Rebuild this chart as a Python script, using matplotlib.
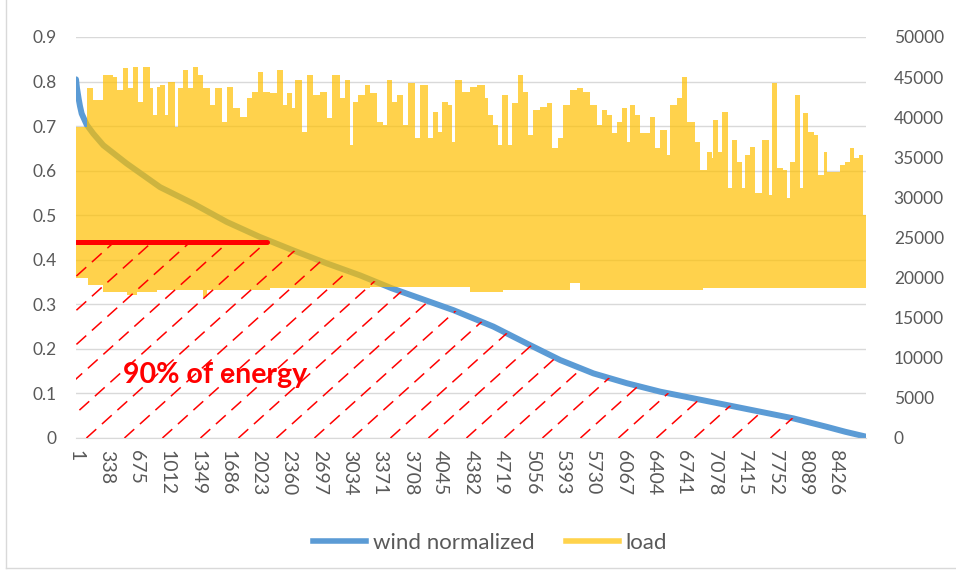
import numpy as np
import matplotlib
matplotlib.use('Agg')
import matplotlib.pyplot as plt
from matplotlib.patches import Polygon
from matplotlib.lines import Line2D
from matplotlib.ticker import FuncFormatter

plt.rcParams['font.family'] = ['Lato', 'DejaVu Sans']
plt.rcParams['lines.scale_dashes'] = False

# wind duration curve (hour rank -> normalized output)
wind_hour = [1, 12, 30, 45, 64, 120, 193, 304, 563, 933, 1302, 1672, 2042, 2411,
             2781, 3151, 3502, 4185, 4629, 5000, 5369, 5738, 6108, 6478, 6847,
             7217, 7587, 7956, 8326, 8530, 8760]
wind_value = [0.805, 0.785, 0.762, 0.745, 0.728, 0.703, 0.683, 0.657, 0.616, 0.563,
              0.526, 0.485, 0.451, 0.421, 0.392, 0.365, 0.336, 0.287, 0.250, 0.212,
              0.175, 0.145, 0.123, 0.104, 0.089, 0.074, 0.059, 0.044, 0.025, 0.014,
              0.003]

# load: excel draws 8760 points as a solid band, so keep its upper and lower edge
peak_hour = [1, 120, 193, 304, 415, 452, 526, 581, 637, 692, 748, 822, 858, 896, 933,
             988, 1025, 1099, 1136, 1191, 1247, 1295, 1357, 1413, 1487, 1542, 1616,
             1672, 1745, 1820, 1894, 1949, 2023, 2071,
             2152, 2227, 2300, 2338, 2393, 2430, 2504, 2560, 2633, 2707, 2781, 2837,
             2929, 2984, 3040, 3077, 3132, 3206, 3262, 3336, 3409, 3447, 3502, 3557,
             3631, 3686, 3761, 3816, 3908, 3964, 4019, 4056, 4130, 4167, 4204, 4278,
             4370, 4445, 4537, 4574, 4629, 4685, 4722, 4796, 4833, 4907, 4962, 5017,
             5073, 5147, 5221, 5276, 5350, 5405, 5479, 5553, 5627, 5701, 5775, 5831,
             5886, 5941, 5997, 6052, 6108, 6145, 6200, 6256, 6367, 6422, 6478, 6552,
             6589, 6663, 6718, 6774, 6866, 6921, 6995, 7051, 7069, 7124, 7162, 7235,
             7272, 7328, 7383, 7420, 7476, 7531, 7605, 7679, 7716, 7772, 7845, 7882,
             7919, 7975, 8030, 8067, 8122, 8178, 8233, 8289, 8326, 8474, 8529, 8585,
             8622, 8677, 8732]
load_peak = [38800, 43600, 42200, 45300, 45000, 43400, 46100, 43600, 46300, 41900,
             46300, 43600, 40300, 43800, 44000, 40300, 44400, 38800, 43600, 45900,
             43600, 46300, 45300, 43600, 41500, 43600, 39400, 43800, 41200, 40000,
             42400, 43200, 45600, 43200,
             43000, 45900, 41500, 43000, 41200, 44600, 38200, 45300, 42800, 43200,
             39900, 45300, 42400, 44600, 36500, 41900, 42800, 44000, 43000, 39400,
             39000, 44600, 41900, 42800, 39000, 44300, 37400, 44000, 37400, 40700,
             38200, 41900, 41500, 36900, 44600, 43200,
             43800, 44000, 42400, 40300, 39000, 36500, 42800, 36500, 41800, 45300,
             43200, 37800, 40900, 41300, 41800, 36200, 37400, 41500, 43400, 43600,
             43200, 41500, 39000, 40900, 40300, 38000, 39400, 41200, 36900, 41500,
             40300, 38000, 40000, 36200, 38400, 35300,
             41500, 42400, 45000, 39400, 36900, 33400, 35700, 34900, 39700, 35700,
             40700, 31200, 37200, 34400, 31200, 35300, 36300, 30600, 37200, 30300,
             44300, 33700, 33400, 29900, 34400, 42800, 31200, 40500, 38200, 37800,
             32800, 35700, 33200, 34000, 34400, 36200, 34900, 35300, 27800]
low_hour = [1, 130, 300, 565, 680, 900, 1410, 1450, 2150, 3260, 4370, 4740, 5480,
            5590, 6955]
load_low = [20000, 19100, 18200, 17800, 18200, 18500, 17600, 18500, 18700, 18800,
            18200, 18500, 19300, 18500, 18700]

tick_hours = [1, 338, 675, 1012, 1349, 1686, 2023, 2360, 2697, 3034, 3371, 3708,
              4045, 4382, 4719, 5056, 5393, 5730, 6067, 6404, 6741, 7078, 7415,
              7752, 8089, 8426]
last_hour = 8760

# annotation
level = 0.44
level_end = 2120
hatch_end = 7956

grey = '#595959'
fig = plt.figure(figsize=(9.56, 5.76), dpi=100)
ax = fig.add_axes([76 / 956, 1 - 438 / 576, 790 / 956, 401 / 576])
ax2 = ax.twinx()

ax.plot(wind_hour, wind_value, color='#5B9BD5', lw=4.3, solid_capstyle='round',
        solid_joinstyle='round')
ax.set_xlim(1, last_hour)
ax.set_ylim(0, 0.9)
ax.set_yticks([0, 0.1, 0.2, 0.3, 0.4, 0.5, 0.6, 0.7, 0.8, 0.9])
ax.yaxis.set_major_formatter(FuncFormatter(lambda v, p: '%g' % round(v, 1)))
ax.set_xticks(tick_hours)
ax.set_xticklabels([str(t) for t in tick_hours])
ax.grid(axis='y', color='#D9D9D9', lw=1)
ax.set_axisbelow(True)

hours = np.union1d(peak_hour + low_hour, [last_hour])
top = np.array(load_peak)[np.searchsorted(peak_hour, hours, side='right') - 1]
bot = np.array(load_low)[np.searchsorted(low_hour, hours, side='right') - 1]
ax2.fill_between(hours, bot, top, step='post', color='#FFC000', alpha=0.7, lw=0)
ax2.set_ylim(0, 50000)
ax2.set_yticks(range(0, 50001, 5000))

for a in (ax, ax2):
    for s in a.spines.values():
        s.set_visible(False)
ax.spines['bottom'].set_visible(True)
ax.spines['bottom'].set_color('#D9D9D9')

ax.tick_params(axis='y', length=0, pad=14, labelsize=12.5, labelcolor=grey)
ax2.tick_params(axis='y', length=0, pad=20, labelsize=12.5, labelcolor=grey)
ax.tick_params(axis='x', length=0, pad=9, labelsize=14, labelcolor=grey,
               labelrotation=-90)

# hatched area under the curve, capped at the level line
pts = [(1, 0)] + [(h, min(v, level)) for h, v in zip(wind_hour, wind_value)
                  if h <= hatch_end] + [(hatch_end, 0)]
clip = Polygon(pts, closed=True, transform=ax.transData)
W, H = 790.0, 401.0
k = 0.9 * W / H
for x0 in np.arange(-1 / k, 1, 38 / W):
    ln = Line2D([x0, x0 + 1 / k], [0, 1], transform=ax2.transAxes, color='red',
                lw=1.1, dashes=(9.5, 5.5))
    ln.set_clip_path(clip)
    ax2.add_line(ln)

ax2.plot([1, level_end], [level, level], transform=ax.transData, color='red',
         lw=3.6, solid_capstyle='round')
ax2.text(520, 0.141, '90% of energy', transform=ax.transData, color='red',
         fontsize=20.5, fontweight='bold', ha='left', va='center')

handles = [Line2D([], [], color='#5B9BD5', lw=4),
           Line2D([], [], color='#FFD34C', lw=4)]
fig.legend(handles, ['wind normalized', 'load'], loc='center',
           bbox_to_anchor=(490 / 956, 1 - 543 / 576), ncol=2, frameon=False,
           fontsize=16, handlelength=2.4, columnspacing=1.4, handletextpad=0.3,
           labelcolor=grey)

fig.add_artist(Line2D([6 / 956, 6 / 956], [1 - 568 / 576, 1], color='#D9D9D9',
                      transform=fig.transFigure, lw=1))
fig.add_artist(Line2D([6 / 956, 1], [1 - 568 / 576, 1 - 568 / 576], color='#D9D9D9',
                      transform=fig.transFigure, lw=1))

fig.savefig('out.png', dpi=100)
